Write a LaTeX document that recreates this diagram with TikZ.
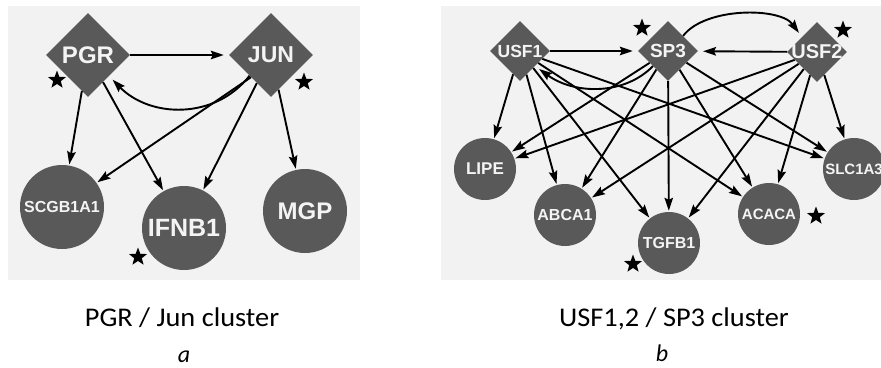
\documentclass[tikz,border=0pt]{standalone}
\usepackage{fontspec}
\setmainfont{Liberation Sans}
\newfontfamily\capfont{Carlito}
\usetikzlibrary{shapes.geometric,arrows.meta}
\definecolor{panelbg}{HTML}{F2F2F2}
\definecolor{nodegray}{HTML}{595959}
\definecolor{nodetext}{HTML}{F4F4F4}
\newcommand{\fsz}[1]{\fontsize{#1}{#1}\selectfont}
\begin{document}
\begin{tikzpicture}[x=1pt,y=-1pt,
  tf/.style={diamond, aspect=1, fill=nodegray, inner sep=0pt, minimum size=#1,
    text=nodetext},
  gene/.style={circle, fill=nodegray, inner sep=0pt, minimum size=#1,
    text=nodetext},
  edge/.style={line width=1.9pt, -{Stealth[length=13pt,width=8.5pt,inset=2pt]},
    shorten >=1pt},
  toreg/.style={edge, shorten >=5pt},
  sigstar/.style={star, star points=5, star point ratio=2.4, fill=black,
    inner sep=0pt, minimum size=19pt},
  caption/.style={font=\capfont\fsz{27}, anchor=base, inner sep=0pt},
  sublabel/.style={font=\capfont\itshape\fsz{24}, anchor=base, inner sep=0pt}]
\useasboundingbox (0,0) rectangle (881,367);

% panel backgrounds
\fill[panelbg] (8,6) rectangle (360,280);
\fill[panelbg] (441,6) rectangle (881,280);

% ---------- PGR / Jun cluster ----------
\node[tf=84pt, font=\bfseries\fsz{24}] (PGR) at (88,55) {\makebox[0pt]{PGR}};
\node[tf=84pt, font=\bfseries\fsz{23}] (JUN) at (271,55) {\makebox[0pt]{JUN}};
\node[gene=84pt, font=\bfseries\fsz{16}] (SCGB) at (62,207) {\makebox[0pt]{SCGB1A1}};
\node[gene=84pt, font=\bfseries\fsz{25}] (IFNB) at (184,228) {\makebox[0pt]{IFNB1}};
\node[gene=84pt, font=\bfseries\fsz{24}] (MGP) at (305,211) {\makebox[0pt]{MGP}};

\draw[toreg] (PGR) -- (JUN);
\draw[toreg] (JUN.-136) .. controls (215,120) and (150,118) .. (PGR.-45);
\draw[edge] (PGR) -- (SCGB);
\draw[edge] (PGR) -- (IFNB);
\draw[edge] (JUN.-132) -- (SCGB.35);
\draw[edge] (JUN) -- (IFNB);
\draw[edge] (JUN) -- (MGP);

\node[sigstar] (starPGR) at (57,80) {};
\node[sigstar] (starJUN) at (304,82) {};
\node[sigstar] (starIFNB) at (138,257) {};

% ---------- USF1,2 / SP3 cluster ----------
\begin{scope}
\clip (441,6) rectangle (881,280);
\node[tf=60pt, font=\bfseries\fsz{17.5}] (USF1) at (520,51) {\makebox[0pt]{USF1}};
\node[tf=60pt, font=\bfseries\fsz{19}] (SP3) at (668,51) {\makebox[0pt]{SP3}};
\node[tf=60pt, font=\bfseries\fsz{20}] (USF2) at (817,52) {\makebox[0pt]{USF2}};
\node[gene=62pt, font=\bfseries\fsz{17}] (LIPE) at (485,169) {\makebox[0pt]{LIPE}};
\node[gene=62pt, font=\bfseries\fsz{16}] (ABCA) at (565,215) {\makebox[0pt]{ABCA1}};
\node[gene=62pt, font=\bfseries\fsz{16}] (TGFB) at (669,243) {\makebox[0pt]{TGFB1}};
\node[gene=62pt, font=\bfseries\fsz{15}] (ACACA) at (769,214) {\makebox[0pt]{ACACA}};
\node[gene=62pt, font=\bfseries\fsz{15}] (SLC) at (854,169) {\makebox[0pt]{SLC1A3}};

\draw[toreg] (USF1) -- (SP3);
\draw[toreg] (USF2) -- (SP3);
\draw[toreg] (SP3.45) .. controls (705,7) and (780,7) .. (USF2.135);
\draw[toreg] (SP3.-135) .. controls (625,95) and (575,95) .. (USF1.-45);
\foreach \src in {USF1,SP3,USF2}
  \foreach \dst in {LIPE,ABCA,TGFB,ACACA,SLC}
    \draw[edge] (\src) -- (\dst);

\node[sigstar] (starSP3) at (642,28) {};
\node[sigstar] (starUSF2) at (843,30) {};
\node[sigstar] (starACACA) at (816,216) {};
\node[sigstar] (starTGFB) at (633,264) {};
\end{scope}

% captions
\node[caption, xscale=1.05] (capA) at (182,326) {PGR / Jun cluster};
\node[sublabel] (subA) at (184,362) {a};
\node[caption, xscale=1.05] (capB) at (674,326) {USF1,2 / SP3 cluster};
\node[sublabel] (subB) at (662,361) {b};
\end{tikzpicture}
\end{document}
